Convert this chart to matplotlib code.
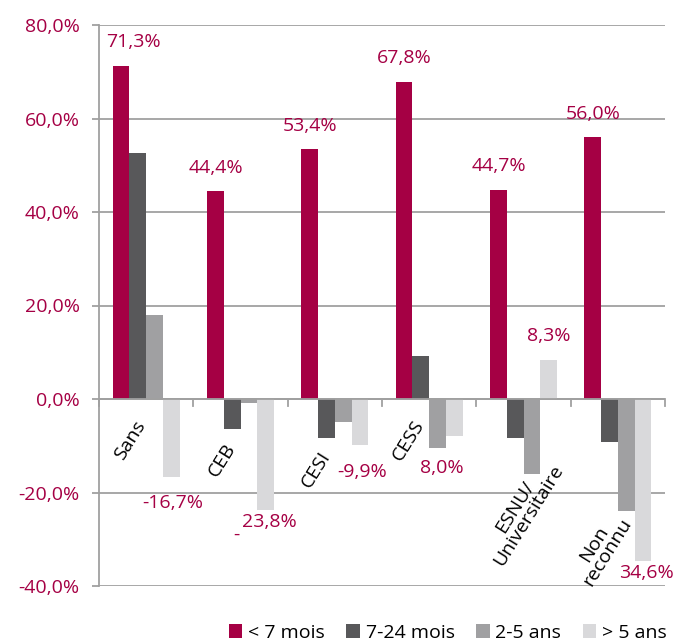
import matplotlib
matplotlib.use("Agg")
import matplotlib.pyplot as plt
import numpy as np
from matplotlib.patches import Patch

categories = ["Sans", "CEB", "CESI", "CESS", "ESNU/\nUniversitaire", "Non\nreconnu"]
series_names = ["< 7 mois", "7-24 mois", "2-5 ans", "> 5 ans"]
lt7 = [71.3, 44.4, 53.4, 67.8, 44.7, 56.0]
m7_24 = [52.6, -6.4, -8.4, 9.3, -8.4, -9.1]
a2_5 = [17.9, -0.9, -5.0, -10.5, -16.1, -23.9]
gt5 = [-16.7, -23.8, -9.9, -7.9, 8.3, -34.6]
lt7_labels = ["71,3%", "44,4%", "53,4%", "67,8%", "44,7%", "56,0%"]
gt5_labels = ["-16,7%", "23,8%", "-9,9%", "8,0%", "8,3%", "34,6%"]
yticks = [-40, -20, 0, 20, 40, 60, 80]
ytick_labels = ["-40,0%", "-20,0%", "0,0%", "20,0%", "40,0%", "60,0%", "80,0%"]

colors = ["#A50044", "#58585A", "#A0A0A2", "#D9D9DB"]
crimson = "#A50044"
grid_c = "#A0A0A0"
FS = 14

plt.rcParams['font.family'] = ['Open Sans', 'DejaVu Sans']
W, H = 679, 643
fig = plt.figure(figsize=(W/100, H/100), dpi=100)
ax = fig.add_axes([99/W, 1-586/H, (665-99)/W, (586-25)/H])

n = len(categories)
x = np.arange(n)
bw = 0.177
offs = (np.arange(4) - 1.5) * bw
all_series = [lt7, m7_24, a2_5, gt5]
for i, s in enumerate(all_series):
    ax.bar(x + offs[i], s, bw, color=colors[i], edgecolor='none', zorder=3)

ax.set_xlim(-0.5, n - 0.5)
ax.set_ylim(-40, 80)
ax.set_yticks(yticks)
ax.set_yticklabels(ytick_labels, color=crimson, fontsize=FS)
ax.tick_params(axis='y', length=5, width=1.3, color=grid_c, pad=9)
ax.set_xticks([])
ax.yaxis.grid(True, color=grid_c, lw=1.3, zorder=1)
for sp in ['top', 'right', 'bottom']:
    ax.spines[sp].set_visible(False)
ax.spines['left'].set_color(grid_c)
ax.spines['left'].set_linewidth(1.3)
ax.axhline(0, color=grid_c, lw=1.3, zorder=4)
for b in np.arange(n + 1) - 0.5:
    ax.plot([b, b], [0, -1.4], color=grid_c, lw=1.3, zorder=4, clip_on=False)

lt7_dx = [12, 0, 0, 0, 0, 0]
for i, v in enumerate(lt7):
    ax.annotate(lt7_labels[i], (x[i] + offs[0], v), xytext=(lt7_dx[i] * 0.72, 17),
                textcoords='offset points', ha='center', va='center',
                color=crimson, fontsize=FS)

gt5_off = [(2, -26), (4, -12), (2, -27), (-12, -32), (0, 24), (4, -12)]
for i, v in enumerate(gt5):
    dx, dy = gt5_off[i]
    ax.annotate(gt5_labels[i], (x[i] + offs[3], v), xytext=(dx * 0.72, dy * 0.72),
                textcoords='offset points', ha='center', va='center',
                color=crimson, fontsize=FS)
ax.annotate("-", (x[1] + offs[3], gt5[1]), xytext=(-29 * 0.72, -25 * 0.72),
            textcoords='offset points', ha='center', va='center',
            color=crimson, fontsize=FS)

cat_pos = [(130, 440), (222, 460), (316, 470), (408, 440), (522, 511), (601, 548)]
for (px, py), c in zip(cat_pos, categories):
    fig.text(px / W, 1 - py / H, c, rotation=58, ha='center', va='center',
             rotation_mode='anchor', fontsize=FS, color='black', linespacing=0.8)

handles = [Patch(facecolor=colors[i], edgecolor='none') for i in range(4)]
fig.legend(handles, series_names, loc='lower right', bbox_to_anchor=(1.008, -0.025),
           ncol=4, frameon=False, fontsize=FS, handlelength=0.7, handleheight=0.7,
           handletextpad=0.3, columnspacing=1.1)

fig.savefig("out.png", dpi=100)
